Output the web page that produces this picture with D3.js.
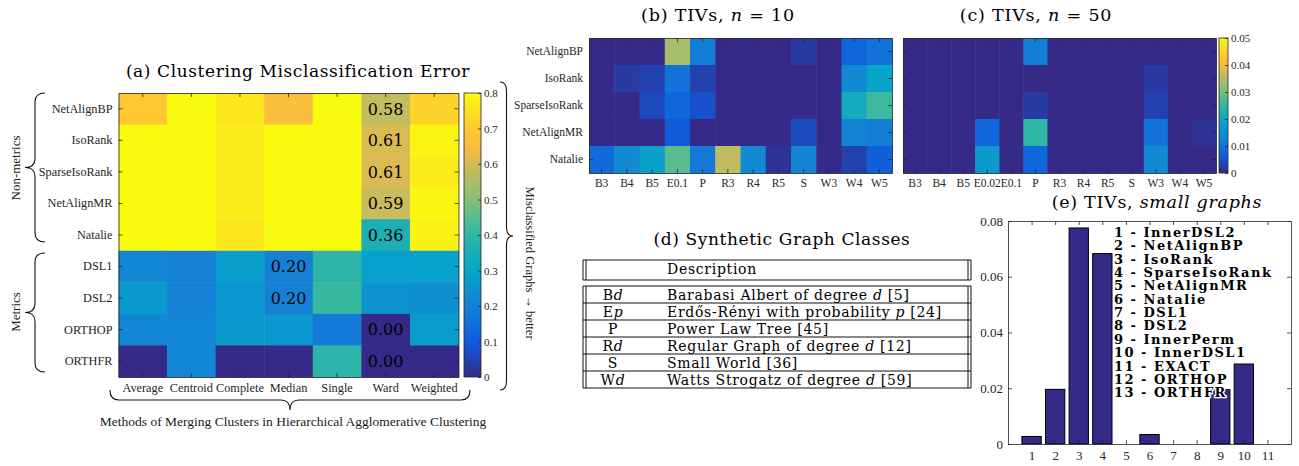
<!DOCTYPE html>
<html lang="en">
<head>
<meta charset="UTF-8">
<title>Alignment figure</title>
<script src="https://d3js.org/d3.v7.min.js"></script>
<style>
  body { margin: 0; background: #fff; }
  svg { display: block; }
  .axis path, .axis line { stroke: #262626; stroke-width: 0.8; }
  .axis text { font-family: "Liberation Serif", serif; font-size: 11px; fill: #262626; }
  .tex { font-family: "DejaVu Serif", serif; fill: #000; white-space: pre; }
  .label { font-family: "Liberation Serif", serif; fill: #1a1a1a; }
</style>
</head>
<body>
<div id="chart"></div>
<script>
// (a) clustering misclassification error
const algorithmsA = ["NetAlignBP", "IsoRank", "SparseIsoRank", "NetAlignMR", "Natalie", "DSL1", "DSL2", "ORTHOP", "ORTHFR"];
const mergeMethods = ["Average", "Centroid", "Complete", "Median", "Single", "Ward", "Weighted"];
const misclassError = [
    [0.70, 0.80, 0.76, 0.655, 0.80, 0.58, 0.72],
    [0.80, 0.80, 0.77, 0.80, 0.80, 0.61, 0.79],
    [0.80, 0.80, 0.77, 0.80, 0.80, 0.61, 0.77],
    [0.80, 0.80, 0.77, 0.80, 0.80, 0.59, 0.79],
    [0.80, 0.80, 0.76, 0.80, 0.80, 0.36, 0.78],
    [0.21, 0.20, 0.28, 0.20, 0.39, 0.29, 0.29],
    [0.27, 0.20, 0.26, 0.20, 0.41, 0.25, 0.24],
    [0.21, 0.21, 0.27, 0.26, 0.18, 0.00, 0.28],
    [0.00, 0.21, 0.00, 0.00, 0.39, 0.00, 0.00]
];
const annotatedCells = [
    ["NetAlignBP", "Ward"], ["IsoRank", "Ward"], ["SparseIsoRank", "Ward"], ["NetAlignMR", "Ward"],
    ["Natalie", "Ward"], ["DSL1", "Median"], ["DSL2", "Median"], ["ORTHOP", "Ward"], ["ORTHFR", "Ward"]
];
const errorTicks = [0, 0.1, 0.2, 0.3, 0.4, 0.5, 0.6, 0.7, 0.8];

// (b), (c) triangle inequality violations
const algorithmsTIV = ["NetAlignBP", "IsoRank", "SparseIsoRank", "NetAlignMR", "Natalie"];
const classesN10 = ["B3", "B4", "B5", "E0.1", "P", "R3", "R4", "R5", "S", "W3", "W4", "W5"];
const tivN10 = [
    [0, 0, 0, 0.034, 0.012, 0, 0, 0, 0.002, 0, 0.008, 0.010],
    [0, 0.002, 0.003, 0.010, 0.003, 0, 0, 0, 0, 0, 0.014, 0.019],
    [0, 0, 0.004, 0.008, 0.005, 0, 0, 0, 0, 0, 0.021, 0.026],
    [0, 0, 0, 0.006, 0, 0, 0, 0, 0.004, 0, 0.013, 0.012],
    [0.009, 0.014, 0.018, 0.028, 0.011, 0.036, 0.014, 0.001, 0.013, 0, 0.003, 0.007]
];
const classesN50 = ["B3", "B4", "B5", "E0.02", "E0.1", "P", "R3", "R4", "R5", "S", "W3", "W4", "W5"];
const tivN50 = [
    [0, 0, 0, 0, 0, 0.012, 0, 0, 0, 0, 0, 0, 0],
    [0, 0, 0, 0, 0, 0, 0, 0, 0, 0, 0.002, 0, 0],
    [0, 0, 0, 0, 0, 0.002, 0, 0, 0, 0, 0.003, 0, 0],
    [0, 0, 0, 0.008, 0, 0.025, 0, 0, 0, 0, 0.010, 0, 0.001],
    [0, 0, 0, 0.017, 0, 0.008, 0, 0, 0, 0, 0.014, 0, 0]
];
const tivTicks = [0, 0.01, 0.02, 0.03, 0.04, 0.05];

// (d) synthetic graph classes (*...* = italic)
const classCodes = ["B*d*", "E*p*", "P", "R*d*", "S", "W*d*"];
const classDescriptions = [
    "Barabasi Albert of degree *d* [5]",
    "Erdős-Rényi with probability *p* [24]",
    "Power Law Tree [45]",
    "Regular Graph of degree *d* [12]",
    "Small World [36]",
    "Watts Strogatz of degree *d* [59]"
];

// (e) TIVs on small graphs
const smallIndex = [1, 2, 3, 4, 5, 6, 7, 8, 9, 10, 11];
const smallTIV = [0.0027, 0.0196, 0.0775, 0.0683, 0, 0.0034, 0, 0, 0.0195, 0.0287, 0];
const smallTicks = [0, 0.02, 0.04, 0.06, 0.08];
const smallLegend = ["InnerDSL2", "NetAlignBP", "IsoRank", "SparseIsoRank", "NetAlignMR", "Natalie", "DSL1",
    "DSL2", "InnerPerm", "InnerDSL1", "EXACT", "ORTHOP", "ORTHFR"];

// Parula colormap
const parulaStops = [0, 0.125, 0.25, 0.375, 0.5, 0.625, 0.75, 0.81, 0.875, 1];
const parulaColors = ["#352a87", "#0f5cdd", "#1481d6", "#06a4ca", "#2eb7a4",
    "#87bf77", "#d1bb59", "#fbbb3e", "#fec832", "#f9fb0e"];
const parula = d3.scaleLinear().domain(parulaStops).range(parulaColors).interpolate(d3.interpolateRgb);
const colorError = d3.scaleSequential(parula).domain([0, 0.8]);
const colorTIV = d3.scaleSequential(parula).domain([0, 0.05]);

const width = 1299;
const height = 466;

const svg = d3.select("#chart").append("svg")
    .attr("width", width)
    .attr("height", height);
const defs = svg.append("defs");

svg.append("rect").attr("width", width).attr("height", height).attr("fill", "#fff");

// text with *italic* segments
function richText(sel, str) {
    str.split("*").forEach((s, i) => {
        if (s) sel.append("tspan").attr("font-style", i % 2 ? "italic" : "normal").text(s);
    });
    return sel;
}

function title(x, y, size, spacing, str) {
    return richText(svg.append("text").attr("class", "tex")
        .attr("x", x).attr("y", y)
        .attr("text-anchor", "middle")
        .attr("font-size", size)
        .attr("letter-spacing", spacing), str);
}

function heatmap(rows, cols, values, color, xRange, yRange, rowLabels, fontSize) {
    const g = svg.append("g");
    const x = d3.scaleBand().domain(cols).range(xRange);
    const y = d3.scaleBand().domain(rows).range(yRange);
    const cells = rows.flatMap((r, i) => cols.map((c, j) => ({ r, c, v: values[i][j] })));
    g.append("g").selectAll("rect").data(cells).join("rect")
        .attr("x", d => x(d.c))
        .attr("y", d => y(d.r))
        .attr("width", x.bandwidth() + 0.5)
        .attr("height", y.bandwidth() + 0.5)
        .attr("fill", d => color(d.v));
    g.append("g").attr("class", "axis").attr("transform", `translate(0,${yRange[1]})`)
        .call(d3.axisBottom(x).tickSize(-4).tickSizeOuter(0).tickPadding(6));
    g.append("g").attr("class", "axis").attr("transform", `translate(0,${yRange[0]})`)
        .call(d3.axisTop(x).tickSize(-4).tickSizeOuter(0).tickFormat(""));
    g.append("g").attr("class", "axis").attr("transform", `translate(${xRange[0]},0)`)
        .call(d3.axisLeft(y).tickSize(-4).tickSizeOuter(0).tickPadding(6).tickFormat(rowLabels ? null : ""));
    g.append("g").attr("class", "axis").attr("transform", `translate(${xRange[1]},0)`)
        .call(d3.axisRight(y).tickSize(-4).tickSizeOuter(0).tickFormat(""));
    g.selectAll(".axis text").style("font-size", fontSize + "px");
    return { g, x, y };
}

function colorbar(id, color, ticks, x, w, yRange) {
    const scale = d3.scaleLinear().domain(d3.extent(ticks)).range([yRange[1], yRange[0]]);
    const grad = defs.append("linearGradient").attr("id", id)
        .attr("x1", 0).attr("y1", 1).attr("x2", 0).attr("y2", 0);
    d3.range(0, 1.0001, 0.02).forEach(t => {
        grad.append("stop").attr("offset", t).attr("stop-color", color(scale.invert(yRange[1] - t * (yRange[1] - yRange[0]))));
    });
    svg.append("rect")
        .attr("x", x).attr("y", yRange[0])
        .attr("width", w).attr("height", yRange[1] - yRange[0])
        .attr("fill", `url(#${id})`)
        .attr("stroke", "#262626").attr("stroke-width", 0.8);
    svg.append("g").attr("class", "axis").attr("transform", `translate(${x + w},0)`)
        .call(d3.axisRight(scale).tickValues(ticks).tickSize(-3).tickSizeOuter(0).tickPadding(3).tickFormat(d3.format("~g")))
        .call(g => g.select(".domain").remove());
}

// curly braces
function vBrace(x, y1, y2, w) {
    const xm = x + w / 2, xt = x + w, ym = (y1 + y2) / 2, r = 9;
    return `M${x},${y1} Q${xm},${y1} ${xm},${y1 + r} L${xm},${ym - r} Q${xm},${ym} ${xt},${ym}
            Q${xm},${ym} ${xm},${ym + r} L${xm},${y2 - r} Q${xm},${y2} ${x},${y2}`;
}
function hBrace(y, x1, x2, h) {
    const ym = y + h / 2, yt = y + h, xm = (x1 + x2) / 2, r = 9;
    return `M${x1},${y} Q${x1},${ym} ${x1 + r},${ym} L${xm - r},${ym} Q${xm},${ym} ${xm},${yt}
            Q${xm},${ym} ${xm + r},${ym} L${x2 - r},${ym} Q${x2},${ym} ${x2},${y}`;
}
function brace(d) {
    svg.append("path").attr("d", d).attr("fill", "none").attr("stroke", "#111").attr("stroke-width", 1.1);
}

// ---------- (a) ----------
title(298, 77, 17, 0.6, "(a) Clustering Misclassification Error");

const hmA = heatmap(algorithmsA, mergeMethods, misclassError, colorError, [118.5, 458.5], [93, 377], true, 12.3);

hmA.g.append("g").selectAll("text").data(annotatedCells).join("text")
    .attr("class", "tex")
    .attr("x", d => hmA.x(d[1]) + hmA.x.bandwidth() / 2)
    .attr("y", d => hmA.y(d[0]) + hmA.y.bandwidth() / 2)
    .attr("dy", "0.36em")
    .attr("text-anchor", "middle")
    .attr("font-size", 16)
    .attr("fill", d => misclassError[algorithmsA.indexOf(d[0])][mergeMethods.indexOf(d[1])] < 0.1 ? "#fff" : "#111")
    .text(d => d3.format(".2f")(misclassError[algorithmsA.indexOf(d[0])][mergeMethods.indexOf(d[1])]));

colorbar("cbA", colorError, errorTicks, 464, 17, [93, 377]);

brace(vBrace(45, 93, 242, -20));
brace(vBrace(45, 253, 372, -20));
brace(vBrace(500, 82, 390, 13));
brace(hBrace(390, 110, 470, 20));

svg.append("text").attr("class", "label").attr("font-size", 13)
    .attr("transform", "translate(20,168) rotate(-90)").attr("text-anchor", "middle").text("Non-metrics");
svg.append("text").attr("class", "label").attr("font-size", 13)
    .attr("transform", "translate(20,312) rotate(-90)").attr("text-anchor", "middle").text("Metrics");
svg.append("text").attr("class", "label").attr("font-size", 12.5)
    .attr("transform", "translate(526,263) rotate(90)").attr("text-anchor", "middle").text("Misclassified Graphs → better");
svg.append("text").attr("class", "label").attr("font-size", 13.5)
    .attr("x", 293).attr("y", 426).attr("text-anchor", "middle")
    .text("Methods of Merging Clusters in Hierarchical Agglomerative Clustering");

// ---------- (b) ----------
title(718, 21, 17.5, 0.8, "(b) TIVs, *n* = 10");
heatmap(algorithmsTIV, classesN10, tivN10, colorTIV, [589, 892], [38, 173], true, 11.5);

// ---------- (c) ----------
title(1036, 21, 17.5, 0.8, "(c) TIVs, *n* = 50");
heatmap(algorithmsTIV, classesN50, tivN50, colorTIV, [903, 1216], [38, 173], false, 11.5);
colorbar("cbC", colorTIV, tivTicks, 1219, 9, [38, 173]);

// ---------- (d) ----------
title(782, 245, 17, 0.6, "(d) Synthetic Graph Classes");

const rowY = d3.scaleBand().domain(classCodes).range([286, 388]);
const table = svg.append("g").attr("stroke", "#111").attr("stroke-width", 1);
[[260, 280], [286, 388]].forEach(([t, b]) => {
    table.append("line").attr("x1", 583).attr("x2", 971).attr("y1", t).attr("y2", t);
    table.append("line").attr("x1", 583).attr("x2", 971).attr("y1", b).attr("y2", b);
    [583, 586, 968, 971].forEach(x => table.append("line").attr("x1", x).attr("x2", x).attr("y1", t).attr("y2", b));
});
table.selectAll(".row-line").data(classCodes.slice(1)).join("line")
    .attr("x1", 583).attr("x2", 971)
    .attr("y1", d => rowY(d)).attr("y2", d => rowY(d));

svg.append("text").attr("class", "tex").attr("font-size", 14).attr("letter-spacing", 0.7)
    .attr("x", 667).attr("y", 274).text("Description");
classCodes.forEach((c, i) => {
    const yy = rowY(c) + rowY.bandwidth() / 2;
    richText(svg.append("text").attr("class", "tex").attr("font-size", 14).attr("letter-spacing", 0.7)
        .attr("x", 613).attr("y", yy).attr("dy", "0.36em").attr("text-anchor", "middle"), c);
    richText(svg.append("text").attr("class", "tex").attr("font-size", 14).attr("letter-spacing", 0.7)
        .attr("x", 667).attr("y", yy).attr("dy", "0.36em"), classDescriptions[i]);
});

// ---------- (e) ----------
title(1157, 208, 17.5, 0.7, "(e) TIVs, *small graphs*");

const xE = d3.scaleLinear().domain([0, 12]).range([1008, 1291]);
const yE = d3.scaleLinear().domain([0, 0.08]).range([444, 221]);
const barW = (xE(1) - xE(0)) * 0.82;

svg.append("g").selectAll("rect").data(smallIndex).join("rect")
    .attr("x", (d, i) => xE(d) - barW / 2)
    .attr("y", (d, i) => yE(smallTIV[i]))
    .attr("width", barW)
    .attr("height", (d, i) => yE(0) - yE(smallTIV[i]))
    .attr("fill", "#342a88")
    .attr("stroke", "#000")
    .attr("stroke-width", 1);

const axesE = svg.append("g");
axesE.append("g").attr("class", "axis").attr("transform", "translate(0,444)")
    .call(d3.axisBottom(xE).tickValues(smallIndex).tickSize(-4).tickSizeOuter(0).tickPadding(7));
axesE.append("g").attr("class", "axis").attr("transform", "translate(0,221)")
    .call(d3.axisTop(xE).tickValues(smallIndex).tickSize(-4).tickSizeOuter(0).tickFormat(""));
axesE.append("g").attr("class", "axis").attr("transform", "translate(1008,0)")
    .call(d3.axisLeft(yE).tickValues(smallTicks).tickSize(-4).tickSizeOuter(0).tickPadding(5).tickFormat(d3.format("~g")));
axesE.append("g").attr("class", "axis").attr("transform", "translate(1291,0)")
    .call(d3.axisRight(yE).tickValues(smallTicks).tickSize(-4).tickSizeOuter(0).tickFormat(""));
axesE.selectAll(".axis text").style("font-size", "13px");

svg.append("g").selectAll("text").data(smallLegend).join("text")
    .attr("class", "tex")
    .attr("x", 1114)
    .attr("y", (d, i) => 237 + i * 13.35)
    .attr("font-size", 13)
    .attr("font-weight", "bold")
    .attr("letter-spacing", 1.5)
    .attr("stroke", "#fff").attr("stroke-width", 2.5).attr("paint-order", "stroke")
    .text((d, i) => `${i + 1} - ${d}`);
</script>
</body>
</html>
